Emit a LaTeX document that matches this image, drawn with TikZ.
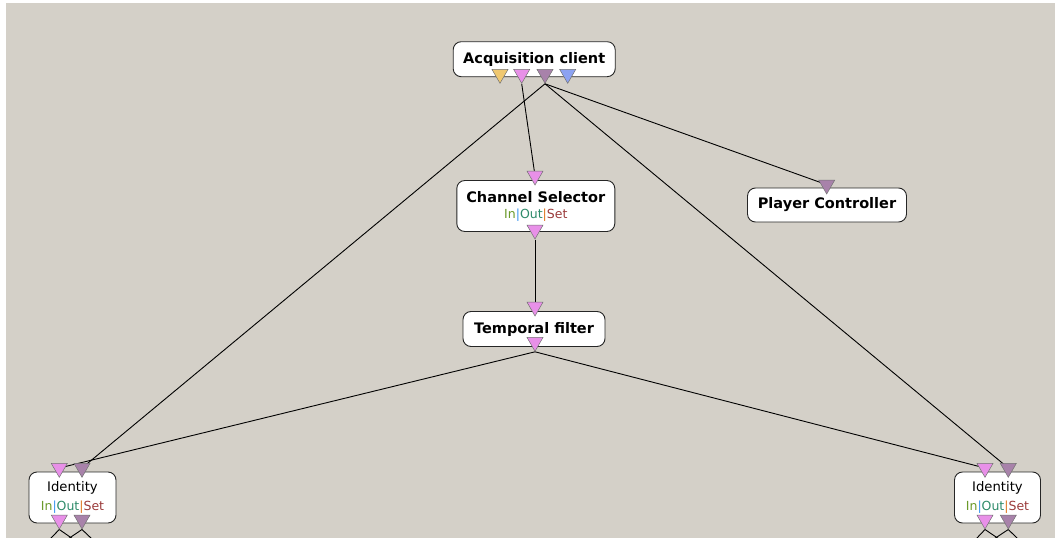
\documentclass[tikz,border=0pt]{standalone}
\usepackage{fontspec}
\setmainfont{DejaVu Sans}
\usetikzlibrary{shapes.geometric,backgrounds}
\definecolor{bgc}{HTML}{D4D0C8}
\definecolor{pyellow}{HTML}{F0C870}
\definecolor{ppink}{HTML}{E890E8}
\definecolor{pmauve}{HTML}{A882AA}
\definecolor{pblue}{HTML}{8CA2F2}
\definecolor{cin}{HTML}{6B9A2A}
\definecolor{cbar}{HTML}{3A96F0}
\definecolor{cout}{HTML}{2E8B6A}
\definecolor{cbar2}{HTML}{E0761E}
\definecolor{cset}{HTML}{9B3B3B}
\newcommand{\ios}{{\color{cin}In}{\color{cbar}|}{\color{cout}Out}{\color{cbar2}|}{\color{cset}Set}}
\begin{document}
\begin{tikzpicture}[x=1pt,y=-1pt,
  box/.style={draw=black!85, fill=white, rounded corners=8pt, line width=0.9pt, inner sep=0pt, align=center},
  port/.style={regular polygon, regular polygon sides=3, shape border rotate=180, minimum size=18.6pt, inner sep=0pt, draw=black!55, line width=0.5pt, fill=#1},
  wire/.style={draw=black, line width=0.9pt},
  ttl/.style={font=\fontsize{14.5}{17.6}\selectfont\bfseries},
  sub/.style={font=\fontsize{13.2}{16.6}\selectfont},
]
\useasboundingbox (0,0) rectangle (1055,538);
% boxes
\node[box, ttl, minimum width=162pt, minimum height=35pt] (acq) at (534.2,59.2) {Acquisition client};
\node[box, minimum width=158pt, minimum height=51pt] (cs) at (535.8,206) {{\fontsize{14.5}{17.6}\selectfont\bfseries Channel Selector}\\[4pt]{\fontsize{12.5}{15}\selectfont\ios}};
\node[box, ttl, minimum width=142pt, minimum height=35pt] (tf) at (534,329) {Temporal filter};
\node[box, ttl, minimum width=159pt, minimum height=34pt] (pc) at (827,205) {Player Controller};
\node[box, sub, minimum width=87pt, minimum height=51pt] (idl) at (72.5,497.5) {Identity\\[2pt]{\fontsize{12.5}{15}\selectfont\ios}};
\node[box, sub, minimum width=86pt, minimum height=51pt] (idr) at (997.5,497.5) {Identity\\[2pt]{\fontsize{12.5}{15}\selectfont\ios}};
% ports
\node[port=pyellow] (acq-y) at (500,74) {};
\node[port=ppink] (acq-p) at (521.7,74) {};
\node[port=pmauve] (acq-m) at (545,74) {};
\node[port=pblue] (acq-b) at (567.7,74) {};
\node[port=ppink] (cs-in) at (535,175.7) {};
\node[port=ppink] (cs-out) at (535,229.7) {};
\node[port=ppink] (tf-in) at (535,306.7) {};
\node[port=ppink] (tf-out) at (535,342) {};
\node[port=pmauve] (pc-in) at (826.7,184.7) {};
\node[port=ppink] (idl-pi) at (59.3,468) {};
\node[port=pmauve] (idl-mi) at (82,468) {};
\node[port=ppink] (idl-po) at (59.3,519.7) {};
\node[port=pmauve] (idl-mo) at (82,519.7) {};
\node[port=ppink] (idr-pi) at (985,468) {};
\node[port=pmauve] (idr-mi) at (1008.3,468) {};
\node[port=ppink] (idr-po) at (985,519.7) {};
\node[port=pmauve] (idr-mo) at (1008.3,519.7) {};
% free ends
\coordinate (l1) at (50,539);
\coordinate (l2) at (68,539);
\coordinate (l3) at (73,539);
\coordinate (l4) at (92,539);
\coordinate (r1) at (976,539);
\coordinate (r2) at (994,539);
\coordinate (r3) at (999,539);
\coordinate (r4) at (1018,539);
\begin{pgfonlayer}{background}
\fill[bgc] (0,0) rectangle (1055,538);
\fill[white] (0,0) rectangle (6,538);
\fill[white] (0,0) rectangle (1055,3);
\draw[wire] (acq-p.corner 1) -- (cs-in.center);
\draw[wire] (acq-m.corner 1) -- (idl-mi.center);
\draw[wire] (acq-m.corner 1) -- (idr-mi.center);
\draw[wire] (acq-m.corner 1) -- (pc-in.center);
\draw[wire] (cs-out.corner 1) -- (tf-in.center);
\draw[wire] (tf-out.corner 1) -- (idl-pi.center);
\draw[wire] (tf-out.corner 1) -- (idr-pi.center);
\draw[wire] (idl-po.corner 1) -- (l1);
\draw[wire] (idl-po.corner 1) -- (l3);
\draw[wire] (idl-mo.corner 1) -- (l2);
\draw[wire] (idl-mo.corner 1) -- (l4);
\draw[wire] (idr-po.corner 1) -- (r1);
\draw[wire] (idr-po.corner 1) -- (r3);
\draw[wire] (idr-mo.corner 1) -- (r2);
\draw[wire] (idr-mo.corner 1) -- (r4);
\end{pgfonlayer}
\end{tikzpicture}
\end{document}
